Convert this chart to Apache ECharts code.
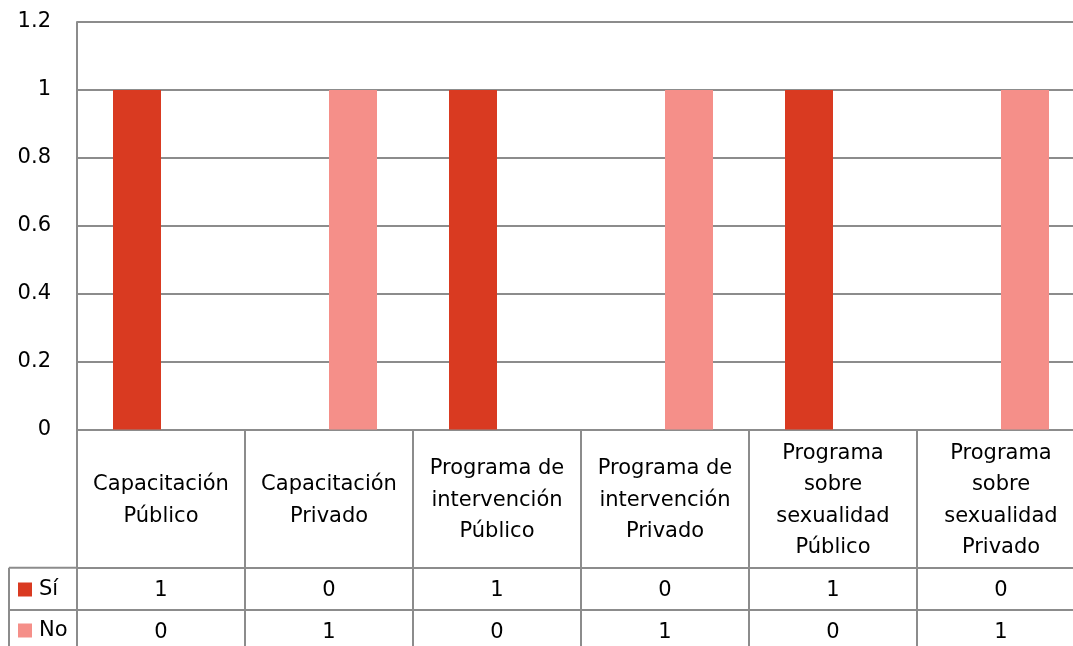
<!DOCTYPE html>
<html>
<head>
<meta charset="utf-8">
<script src="https://cdn.jsdelivr.net/npm/echarts@6/dist/echarts.min.js"></script>
<style>html,body{margin:0;padding:0;background:#fff;overflow:hidden;width:1073px;height:646px}#c{width:1095px;height:646px}</style>
</head>
<body>
<div id="c"></div>
<script>
var categories = [
  'Capacitación\nPúblico',
  'Capacitación\nPrivado',
  'Programa de\nintervención\nPúblico',
  'Programa de\nintervención\nPrivado',
  'Programa\nsobre\nsexualidad\nPúblico',
  'Programa\nsobre\nsexualidad\nPrivado'
];
var seriesNames = ['Sí', 'No'];
var siValues = [1, 0, 1, 0, 1, 0];
var noValues = [0, 1, 0, 1, 0, 1];
var yTicks = { min: 0, max: 1.2, interval: 0.2 };

var FONT = 'DejaVu Sans';
var FS = 21;
var GRID = '#8c8c8c';
var chart = echarts.init(document.getElementById('c'));
var rowAxis = function (offset, vals) {
  return {
    type: 'category', data: categories, position: 'bottom', offset: offset,
    axisLine: { show: true, lineStyle: { color: GRID, width: 2 } },
    axisTick: { show: false },
    axisLabel: {
      interval: 0, margin: 23, verticalAlign: 'middle',
      fontFamily: FONT, fontSize: FS, color: '#000',
      formatter: function (v, i) { return String(vals[i]); }
    }
  };
};
var legendBox = function (name, top) {
  return {
    orient: 'vertical', left: 18, top: top, padding: 0,
    itemWidth: 14, itemHeight: 14, icon: 'rect',
    textStyle: { fontFamily: FONT, fontSize: FS, color: '#000', padding: [0, 0, 0, 2] },
    data: [name]
  };
};
chart.setOption({
  animation: false,
  textStyle: { fontFamily: FONT },
  grid: { left: 77, top: 22, right: 10, bottom: 216.5, containLabel: false },
  legend: [legendBox(seriesNames[0], 579), legendBox(seriesNames[1], 620)],
  xAxis: [
    {
      type: 'category', data: categories, position: 'bottom',
      axisLine: { show: true, lineStyle: { color: GRID, width: 2 } },
      axisTick: { show: true, interval: 0, length: 230, lineStyle: { color: GRID, width: 2 } },
      axisLabel: {
        interval: 0, margin: 71, verticalAlign: 'middle',
        fontFamily: FONT, fontSize: FS, color: '#000', lineHeight: 31.5, align: 'center'
      }
    },
    rowAxis(138, siValues),
    rowAxis(180.5, noValues)
  ],
  yAxis: {
    type: 'value', min: yTicks.min, max: yTicks.max, interval: yTicks.interval,
    axisLine: { show: true, lineStyle: { color: GRID, width: 2 } },
    axisTick: { show: false },
    splitLine: { show: true, lineStyle: { color: GRID, width: 2 } },
    axisLabel: {
      margin: 26, fontFamily: FONT, fontSize: FS, color: '#000',
      formatter: function (v) { return String(Math.round(v * 10) / 10); }
    }
  },
  graphic: [
    { type: 'line', shape: { x1: 9, y1: 567.7, x2: 9, y2: 660 }, style: { stroke: GRID, lineWidth: 2 } },
    { type: 'line', shape: { x1: 9, y1: 567.7, x2: 77, y2: 567.7 }, style: { stroke: GRID, lineWidth: 2 } },
    { type: 'line', shape: { x1: 9, y1: 610, x2: 77, y2: 610 }, style: { stroke: GRID, lineWidth: 2 } }
  ],
  series: [
    { name: seriesNames[0], type: 'bar', data: siValues, barWidth: 48, barGap: '0%', itemStyle: { color: '#d93a21' }, xAxisIndex: 0 },
    { name: seriesNames[1], type: 'bar', data: noValues, barWidth: 48, barGap: '0%', itemStyle: { color: '#f58f89' }, xAxisIndex: 0 }
  ]
});
</script>
</body>
</html>
